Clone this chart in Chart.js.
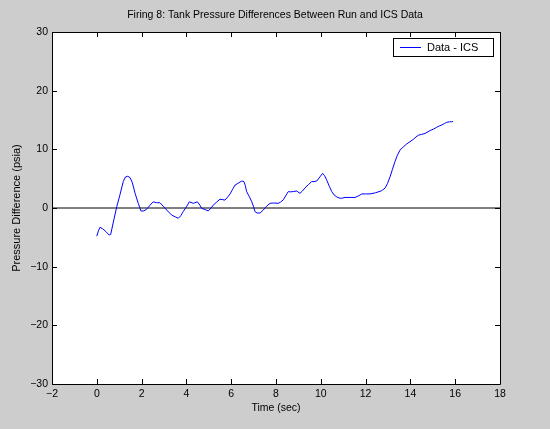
<!DOCTYPE html>
<html>
<head>
<meta charset="utf-8">
<script src="https://cdn.jsdelivr.net/npm/chart.js@4.4.1/dist/chart.umd.min.js"></script>
<style>
  html, body { margin: 0; padding: 0; background: #cdcdcd; }
  canvas { display: block; }
</style>
</head>
<body>
<canvas id="chart" width="550" height="429"></canvas>
<script>
// Firing 8: tank pressure difference between run data and ICS data
const timeSec = [
  0.00, 0.07, 0.14, 0.25, 0.40, 0.55, 0.62, 0.75, 0.89, 1.03,
  1.18, 1.28, 1.38, 1.48, 1.58, 1.71, 1.85, 1.97, 2.10, 2.23,
  2.38, 2.52, 2.67, 2.82, 2.97, 3.12, 3.34, 3.50, 3.64, 3.75,
  3.86, 4.00, 4.13, 4.31, 4.49, 4.60, 4.68, 4.85, 4.98, 5.10,
  5.20, 5.35, 5.50, 5.72, 5.85, 5.95, 6.05, 6.17, 6.30, 6.47,
  6.57, 6.63, 6.69, 6.80, 6.92, 7.00, 7.06, 7.15, 7.29, 7.43,
  7.58, 7.73, 7.90, 8.10, 8.20, 8.33, 8.45, 8.55, 8.65, 8.77,
  8.92, 9.07, 9.18, 9.29, 9.45, 9.59, 9.70, 9.82, 9.96, 10.08,
  10.17, 10.26, 10.38, 10.49, 10.60, 10.71, 10.82, 10.93, 11.08, 11.30,
  11.53, 11.70, 11.83, 12.00, 12.20, 12.45, 12.72, 12.87, 12.98, 13.09,
  13.20, 13.31, 13.42, 13.54, 13.68, 13.83, 13.98, 14.13, 14.25, 14.35,
  14.50, 14.65, 14.88, 15.03, 15.17, 15.30, 15.40, 15.52, 15.62, 15.75,
  15.84, 15.90
];
const pressureDiff = [
  -4.8, -3.9, -3.3, -3.5, -4.0, -4.6, -4.5, -2.2, 0.2, 2.2,
  4.5, 5.3, 5.4, 5.2, 4.4, 2.5, 0.8, -0.5, -0.5, -0.2,
  0.5, 1.05, 0.9, 0.9, 0.3, -0.35, -1.2, -1.5, -1.75, -1.3,
  -0.6, 0.2, 1.05, 0.8, 1.05, 0.5, -0.05, -0.3, -0.5, 0.0,
  0.5, 1.0, 1.5, 1.35, 1.9, 2.4, 3.1, 3.9, 4.2, 4.6,
  4.5, 3.8, 2.8, 2.0, 1.05, 0.2, -0.6, -0.85, -0.85, -0.35,
  0.3, 0.8, 0.85, 0.8, 1.0, 1.4, 2.2, 2.8, 2.75, 2.8,
  2.9, 2.5, 2.9, 3.4, 4.0, 4.5, 4.5, 4.6, 5.3, 5.9,
  5.5, 4.8, 3.7, 2.8, 2.2, 1.9, 1.7, 1.65, 1.8, 1.8,
  1.8, 2.1, 2.4, 2.4, 2.4, 2.6, 2.95, 3.4, 4.2, 5.3,
  6.6, 7.9, 9.0, 9.9, 10.4, 10.9, 11.3, 11.7, 12.1, 12.4,
  12.55, 12.7, 13.2, 13.45, 13.75, 14.0, 14.15, 14.4, 14.6, 14.7,
  14.7, 14.75
];
const zeroLineX = [-2, 18];
const zeroLineY = [0, 0];
const xTickValues = [-2, 0, 2, 4, 6, 8, 10, 12, 14, 16, 18];
const yTickValues = [-30, -20, -10, 0, 10, 20, 30];
const seriesLabel = 'Data - ICS';
const chartTitle = 'Firing 8: Tank Pressure Differences Between Run and ICS Data';
const xAxisTitle = 'Time (sec)';
const yAxisTitle = 'Pressure Difference (psia)';

const FONT = 'Liberation Sans, Arial, Helvetica, sans-serif';
const fmt = v => (v < 0 ? '\u2212' + Math.abs(v) : String(v));

// figure background, white axes area, frame with inward ticks, boxed legend
const framePlugin = {
  id: 'frame',
  beforeDraw(chart) {
    const { ctx, chartArea: a } = chart;
    ctx.save();
    ctx.fillStyle = '#cdcdcd';
    ctx.fillRect(0, 0, chart.width, chart.height);
    ctx.fillStyle = '#ffffff';
    ctx.fillRect(a.left, a.top, a.right - a.left, a.bottom - a.top);
    ctx.restore();
  },
  afterDatasetsDraw(chart) {
    const { ctx, chartArea: a, scales } = chart;
    const len = 5;
    ctx.save();
    ctx.strokeStyle = '#000000';
    ctx.lineWidth = 1;
    ctx.beginPath();
    ctx.rect(Math.round(a.left) + 0.5, Math.round(a.top) + 0.5,
             Math.round(a.right - a.left), Math.round(a.bottom - a.top));
    scales.x.ticks.forEach(t => {
      const px = Math.round(scales.x.getPixelForValue(t.value)) + 0.5;
      ctx.moveTo(px, a.bottom); ctx.lineTo(px, a.bottom - len);
      ctx.moveTo(px, a.top); ctx.lineTo(px, a.top + len);
    });
    scales.y.ticks.forEach(t => {
      const py = Math.round(scales.y.getPixelForValue(t.value)) + 0.5;
      ctx.moveTo(a.left, py); ctx.lineTo(a.left + len, py);
      ctx.moveTo(a.right, py); ctx.lineTo(a.right - len, py);
    });
    ctx.stroke();

    // legend box in the upper right corner
    const ds = chart.data.datasets[0];
    const w = 100, h = 18;
    const bx = Math.round(a.right) - 7 - w, by = Math.round(a.top) + 6;
    ctx.fillStyle = '#ffffff';
    ctx.fillRect(bx, by, w, h);
    ctx.strokeStyle = '#000000';
    ctx.strokeRect(bx + 0.5, by + 0.5, w, h);
    const cy = by + h / 2 + 0.5;
    ctx.strokeStyle = ds.borderColor;
    ctx.beginPath();
    ctx.moveTo(bx + 7, cy); ctx.lineTo(bx + 28, cy);
    ctx.stroke();
    ctx.fillStyle = '#000000';
    ctx.font = '11px ' + FONT;
    ctx.textBaseline = 'middle';
    ctx.textAlign = 'left';
    ctx.fillText(ds.label, bx + 34, cy);
    ctx.restore();
  }
};

new Chart(document.getElementById('chart'), {
  type: 'scatter',
  data: {
    datasets: [
      {
        label: seriesLabel,
        data: timeSec.map((t, i) => ({ x: t, y: pressureDiff[i] })),
        showLine: true,
        borderColor: '#0000ff',
        borderWidth: 1,
        pointRadius: 0,
        tension: 0
      },
      {
        label: 'zero',
        data: zeroLineX.map((x, i) => ({ x, y: zeroLineY[i] })),
        showLine: true,
        borderColor: '#000000',
        borderWidth: 1,
        pointRadius: 0
      }
    ]
  },
  options: {
    responsive: false,
    animation: false,
    events: [],
    layout: { padding: 0 },
    plugins: {
      legend: { display: false },
      tooltip: { enabled: false },
      title: {
        display: true,
        text: chartTitle,
        color: '#000000',
        font: { family: FONT, size: 10.5, weight: 'normal', lineHeight: 1.2 },
        padding: { top: 9, bottom: 10.4 }
      }
    },
    scales: {
      x: {
        type: 'linear',
        min: -2, max: 18,
        afterBuildTicks: s => { s.ticks = xTickValues.map(v => ({ value: v })); },
        afterFit: s => { s.height = 45; },
        grid: { display: false, drawTicks: false },
        border: { display: false },
        ticks: {
          color: '#000000',
          padding: 4,
          maxRotation: 0,
          autoSkip: false,
          font: { family: FONT, size: 10.5 },
          callback: v => fmt(v)
        },
        title: {
          display: true,
          text: xAxisTitle,
          color: '#000000',
          font: { family: FONT, size: 10.5 },
          padding: { top: 0, bottom: 15 }
        }
      },
      y: {
        type: 'linear',
        min: -30, max: 30,
        afterBuildTicks: s => { s.ticks = yTickValues.map(v => ({ value: v })); },
        afterFit: s => { s.width = 52; },
        grid: { display: false, drawTicks: false },
        border: { display: false },
        ticks: {
          color: '#000000',
          padding: 4,
          autoSkip: false,
          font: { family: FONT, size: 10.5 },
          callback: v => fmt(v)
        },
        title: {
          display: true,
          text: yAxisTitle,
          color: '#000000',
          font: { family: FONT, size: 11 },
          padding: { top: 10, bottom: 0 }
        }
      },
      // empty margin on the right of the axes box
      yMargin: {
        type: 'linear',
        position: 'right',
        min: -30, max: 30,
        afterFit: s => { s.width = 50; },
        grid: { display: false, drawTicks: false },
        border: { display: false },
        ticks: { display: false }
      }
    }
  },
  plugins: [framePlugin]
});
</script>
</body>
</html>
